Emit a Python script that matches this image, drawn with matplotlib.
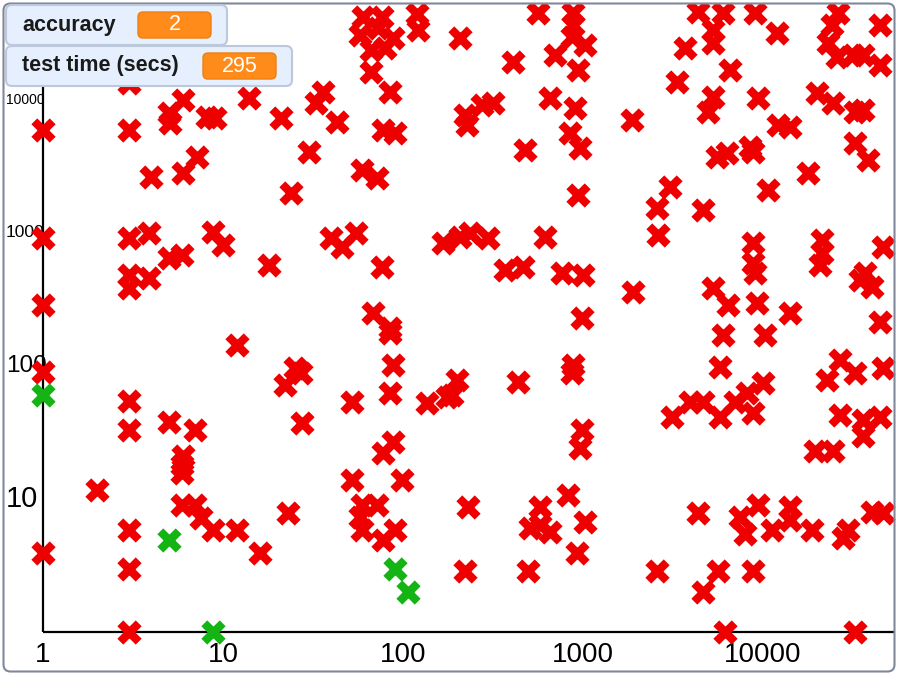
import matplotlib
matplotlib.use("Agg")
import matplotlib.pyplot as plt
from matplotlib.markers import MarkerStyle
from matplotlib.patches import FancyBboxPatch
from matplotlib.transforms import IdentityTransform

# accuracy vs test time scatter
red_x = [60, 76, 58, 73, 88, 66, 79, 120, 121, 66, 85, 207, 3.0, 6, 5, 5.1, 8.1, 9.0,
         14, 21, 36, 33, 43, 77, 90, 1, 3, 4, 6, 7.2, 30, 24, 59, 72, 1, 3, 3.9, 8.8,
         10, 5, 5.9, 18, 40, 46, 55, 167, 76, 3, 3, 3.9, 1, 68, 85, 12,
         562, 880, 880, 868, 1026, 408, 699, 938, 221, 227, 275, 316, 656, 903, 476,
         847, 962, 938, 1872, 3687, 4356, 5995, 5275, 5275, 6560, 9030, 11960, 3330,
         5275, 4947, 9380, 26100, 24170, 22970, 25760, 31620, 35940, 44670, 44670,
         19950, 24480, 32440, 35940, 12120, 14130, 5548, 6310, 8470, 8790, 32440,
         38300, 17780, 10660, 3042, 2577, 4642, 2610, 207, 236, 297, 615, 369, 464,
         764, 1000, 1896, 987, 8790, 8790, 9030, 21270, 21270, 20750, 46420, 36900,
         40350, 34590, 5275, 6390, 9260, 14130, 44670, 5995, 10260,
         1, 3, 3, 5, 7, 6, 5.9, 5.9, 2, 5.9, 7, 7.5, 8.8, 12, 16, 3, 3, 1, 23, 3,
         27, 25, 22, 27.5, 52, 85, 88, 85, 136, 176, 88, 77, 52, 99, 59, 72, 58, 59,
         90, 77,
         200, 187, 435, 880, 868, 987, 962, 230, 577, 577, 656, 508, 826, 1026, 926,
         221, 495, 2577, 5770, 3122, 3930, 4642, 5770, 6990, 8150, 10000, 8790,
         22680, 26790, 32440, 46420, 26790, 35940, 44670, 35940, 19450, 24480, 4356,
         7450, 7940, 9380, 11220, 14130, 14130, 18710, 29650, 27820, 40350, 46420,
         5623, 4642, 8790, 6150, 32440]
red_y = [42100, 42100, 30800, 34800, 29300, 23800, 24600, 44300, 33600, 16300, 11500,
         29300, 13400, 10000, 7980, 6710, 7450, 7320, 10400, 7320, 11500, 9490, 6830,
         5950, 5650, 5950, 5950, 2640, 2830, 3730, 4060, 2000, 2980, 2590, 917, 917,
         1000, 1020, 813, 649, 684, 575, 917, 785, 1000, 841, 555, 483, 386, 459, 288,
         250, 193, 144,
         45100, 45100, 36600, 29800, 25900, 19300, 21800, 16800, 7710, 6490, 9170,
         9490, 10400, 8710, 4210, 5650, 4360, 1930, 7070, 24600, 45900, 45100, 33600,
         26800, 16800, 45100, 31900, 13600, 10500, 8120, 10400, 45100, 36600, 26800,
         21100, 21800, 21800, 18300, 36600, 11300, 9490, 8120, 8410, 6490, 6270, 3730,
         4000, 4430, 4060, 4750, 3540, 2830, 2100, 2220, 1540, 1490, 966, 933, 1000,
         917, 933, 527, 555, 500, 483, 360, 230, 841, 595, 500, 885, 708, 575, 785,
         500, 393, 443, 386, 288, 298, 250, 214, 171, 171,
         90, 55, 33, 38, 33, 21, 18, 15.7, 11.7, 9, 9, 7.2, 5.8, 5.8, 3.9, 5.8, 3.0,
         3.9, 7.8, 1, 89, 97, 72, 37, 54, 177, 102, 63, 53, 58, 27, 22, 13.9, 13.9,
         9, 9, 7.3, 5.8, 5.8, 4.9,
         79, 61, 76, 102, 89, 33, 24, 8.7, 8.7, 6.4, 5.6, 6.1, 10.7, 6.7, 3.9, 2.9,
         2.9, 2.9, 98, 41, 54, 54, 41, 54, 63, 75, 44, 79, 111, 89, 97, 43, 39, 41,
         30, 23, 23, 7.8, 7.3, 5.5, 9, 5.8, 8.7, 7.0, 5.8, 5.8, 5.1, 8.0, 7.8, 2.9,
         2.0, 2.9, 1, 1]
green_x = [1, 5, 8.8, 90, 107]
green_y = [61, 4.9, 1, 3.0, 2.0]

x_ticks = [1, 10, 100, 1000, 10000]
y_ticks = [10, 100, 1000, 10000]
y_tick_sizes = [21, 17.5, 12.5, 10]

monitors = [("accuracy", "2"), ("test time (secs)", "295")]

W, H = 900, 676
fig = plt.figure(figsize=(W / 100, H / 100), dpi=100)
fig.patch.set_facecolor("white")

# stage area, log axes scaled so x=1 sits at px 43 and y=1 at px 632
ax = fig.add_axes([3 / W, 4 / H, 892 / W, 669 / H])
ax.set_xscale("log")
ax.set_yscale("log")
ax.set_xlim(10 ** (-40 / 180), 10 ** (852 / 180))
ax.set_ylim(10 ** (-40 / 133), 10 ** (629 / 133))
ax.axis("off")

ax.plot([1, 1], [1, 10 ** 5], color="black", lw=1.6, zorder=2, solid_capstyle="butt")
ax.plot([1, 10 ** 5], [1, 1], color="black", lw=1.6, zorder=2, solid_capstyle="butt")

font = ["Liberation Sans", "DejaVu Sans"]
for v in x_ticks:
    ax.annotate(str(v), xy=(v, 1), xytext=(0, -23), textcoords="offset pixels",
                ha="center", va="center", fontsize=20, family=font,
                annotation_clip=False, zorder=1)
for v, fs in zip(y_ticks, y_tick_sizes):
    ax.annotate(str(v), xy=(1, v), xytext=(-37, 0), textcoords="offset pixels",
                ha="left", va="center", fontsize=fs, family=font,
                annotation_clip=False, zorder=1)

xm = MarkerStyle("x", capstyle="round")
ax.scatter(red_x, red_y, marker=xm, s=175, linewidths=6, color="#ee0000", zorder=3)
ax.scatter(green_x, green_y, marker=xm, s=175, linewidths=6, color="#13b413", zorder=4)

# outer stage frame
ident = IdentityTransform()
fig.patches.append(FancyBboxPatch((3.5, 4.5), 891, 668, boxstyle="round,pad=0,rounding_size=7",
                                  transform=ident, facecolor="none", edgecolor="#7f889a",
                                  lw=1.5, zorder=5))

# variable monitors
boxes = [(6, 5, 221, 40, 138, 12, 73, 26), (6, 46, 286, 40, 203, 53, 73, 26)]
for (label, value), (bx, by, bw, bh, px, py, pw, ph) in zip(monitors, boxes):
    fig.patches.append(FancyBboxPatch((bx, H - by - bh), bw, bh,
                                      boxstyle="round,pad=0,rounding_size=6",
                                      transform=ident, facecolor="#e5effd",
                                      edgecolor="#bcc8dc", lw=1.5, zorder=6))
    fig.patches.append(FancyBboxPatch((px, H - py - ph), pw, ph,
                                      boxstyle="round,pad=0,rounding_size=5",
                                      transform=ident, facecolor="#ff8c1a",
                                      edgecolor="#f07f0c", lw=1, zorder=7))
    fig.text(bx + 16, H - by - bh / 2, label, transform=ident, ha="left", va="center",
             fontsize=15.5, fontweight="bold", family=font, color="#1a1a1a", zorder=8)
    fig.text(px + pw / 2, H - py - ph / 2, value, transform=ident, ha="center",
             va="center", fontsize=15.5, family=font, color="white", zorder=8)

fig.savefig("out.png", dpi=100)
